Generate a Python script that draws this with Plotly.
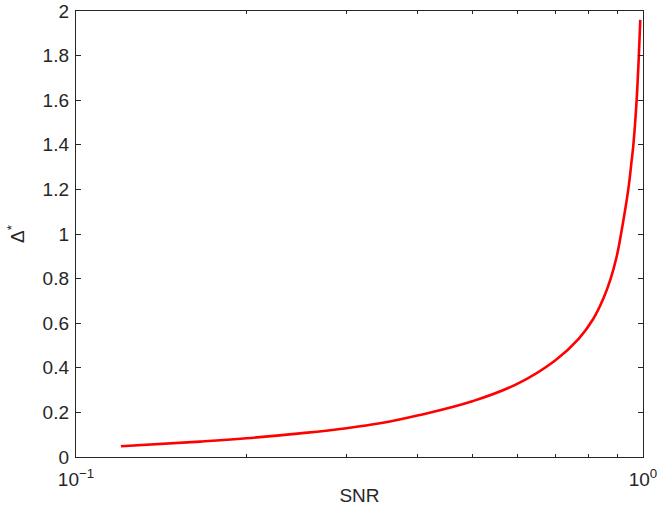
import plotly.graph_objects as go

# Optimal threshold Δ* as a function of signal-to-noise ratio
snr = [0.12, 0.1655, 0.2, 0.2484, 0.3, 0.3436, 0.4, 0.5, 0.6, 0.7, 0.77,
       0.8174, 0.851, 0.877, 0.8984, 0.9146, 0.942, 0.955, 0.9616, 0.9745, 0.989]
delta_star = [0.048, 0.069, 0.084, 0.106, 0.129, 0.151, 0.186, 0.250, 0.328,
              0.433, 0.530, 0.620, 0.710, 0.800, 0.898, 1.00, 1.20, 1.33,
              1.40, 1.60, 1.96]

x_major = [0.1, 1.0]
x_major_text = ["10<sup>−1</sup>", "10<sup>0</sup>"]
x_minor = [0.2, 0.3, 0.4, 0.5, 0.6, 0.7, 0.8, 0.9]
y_ticks = [0, 0.2, 0.4, 0.6, 0.8, 1, 1.2, 1.4, 1.6, 1.8, 2]
y_text = ["0", "0.2", "0.4", "0.6", "0.8", "1", "1.2", "1.4", "1.6", "1.8", "2"]

ink = "#262626"
font = dict(family="Liberation Sans", size=19, color=ink)

fig = go.Figure()
fig.add_trace(go.Scatter(
    x=snr, y=delta_star, mode="lines",
    line=dict(color="#ff0000", width=2.6, shape="spline", smoothing=1.2),
    showlegend=False, hoverinfo="skip",
))

fig.update_layout(
    width=662, height=506,
    margin=dict(l=76, r=19, t=11, b=49),
    paper_bgcolor="white", plot_bgcolor="white",
    font=font,
    xaxis=dict(
        type="log", range=[-1, 0], automargin=False,
        tickmode="array", tickvals=x_major, ticktext=x_major_text,
        ticks="inside", ticklen=5, tickwidth=1, tickcolor=ink,
        minor=dict(tickmode="array", tickvals=x_minor, ticks="inside",
                   ticklen=3, tickwidth=1, tickcolor=ink, showgrid=False),
        showline=True, linecolor=ink, linewidth=1.4, mirror="allticks",
        showgrid=False, zeroline=False,
        ticklabelstandoff=5,
        title=dict(text="SNR", font=font, standoff=6),
        tickfont=font,
    ),
    yaxis=dict(
        range=[0, 2], automargin=False,
        tickmode="array", tickvals=y_ticks, ticktext=y_text,
        ticks="inside", ticklen=5, tickwidth=1, tickcolor=ink,
        showline=True, linecolor=ink, linewidth=1.4, mirror="allticks",
        showgrid=False, zeroline=False,
        ticklabelstandoff=2,
        title=dict(text="Δ<sup>*</sup>", font=font, standoff=12),
        tickfont=font,
    ),
)

fig.write_html("out.html")
